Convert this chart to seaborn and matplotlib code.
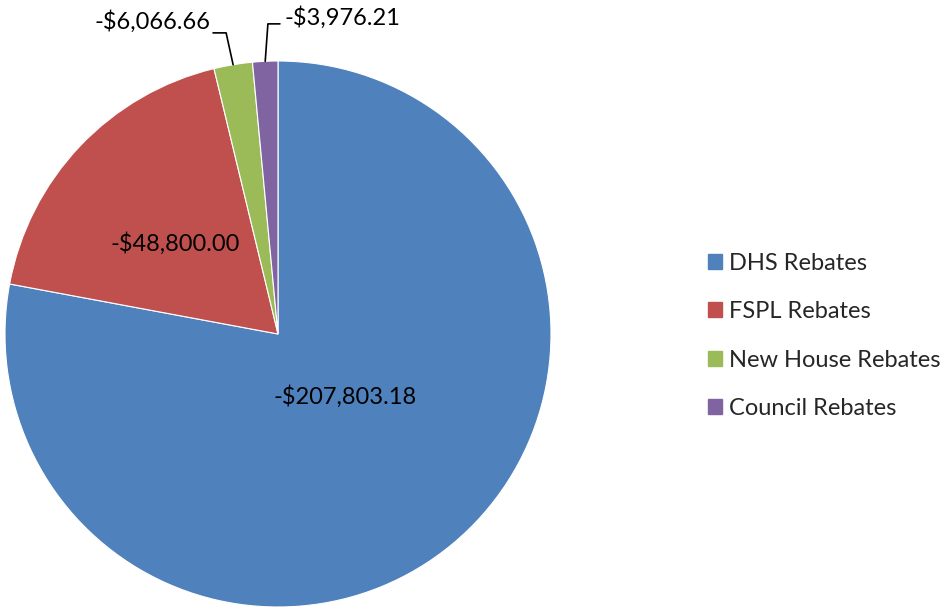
import numpy as np
import matplotlib
matplotlib.use("Agg")
import matplotlib.pyplot as plt
import matplotlib.patches as mpatches
import seaborn as sns

categories = ["DHS Rebates", "FSPL Rebates", "New House Rebates", "Council Rebates"]
values = [207803.18, 48800.00, 6066.66, 3976.21]
value_labels = ["-$207,803.18", "-$48,800.00", "-$6,066.66", "-$3,976.21"]
colors = ["#4F81BD", "#C0504D", "#9BBB59", "#8064A2"]

sns.set_theme(style="white")
plt.rcParams["font.family"] = ["Lato", "DejaVu Sans"]

fig = plt.figure(figsize=(9.49, 6.07), dpi=100)
ax = fig.add_axes([5 / 949, 0, 546 / 949, 546 / 607])
wedges, _ = ax.pie(values, colors=colors, startangle=90, counterclock=False,
                   wedgeprops=dict(edgecolor="white", linewidth=0.8))
ax.set_xlim(-1, 1)
ax.set_ylim(-1, 1)
ax.set_aspect("equal")
ax.axis("off")

fs = 17
# inside labels
ax.text(0.245, -0.23, value_labels[0], ha="center", va="center", fontsize=fs, color="black")
ax.text(-0.377, 0.333, value_labels[1], ha="center", va="center", fontsize=fs, color="black")

# outside labels with leader lines
def mid_point(w):
    a = np.deg2rad((w.theta1 + w.theta2) / 2)
    return np.cos(a), np.sin(a)

x2, y2 = mid_point(wedges[2])
ax.plot([-0.238, -0.19, x2], [1.103, 1.103, y2], color="black", lw=1.2, clip_on=False)
ax.text(-0.249, 1.143, value_labels[2], ha="right", va="center", fontsize=fs, color="black")

x3, y3 = mid_point(wedges[3])
ax.plot([x3, -0.037, 0.007], [y3, 1.136, 1.136], color="black", lw=1.2, clip_on=False)
ax.text(0.022, 1.161, value_labels[3], ha="left", va="center", fontsize=fs, color="black")

handles = [mpatches.Patch(color=c, label=l) for c, l in zip(colors, categories)]
fig.legend(handles=handles, loc="center left", bbox_to_anchor=(708 / 949, 1 - 336 / 607),
           frameon=False, fontsize=fs, handlelength=0.6, handleheight=0.6,
           handletextpad=0.3, labelspacing=1.16, borderpad=0, borderaxespad=0)

fig.savefig("out.png", dpi=100)
